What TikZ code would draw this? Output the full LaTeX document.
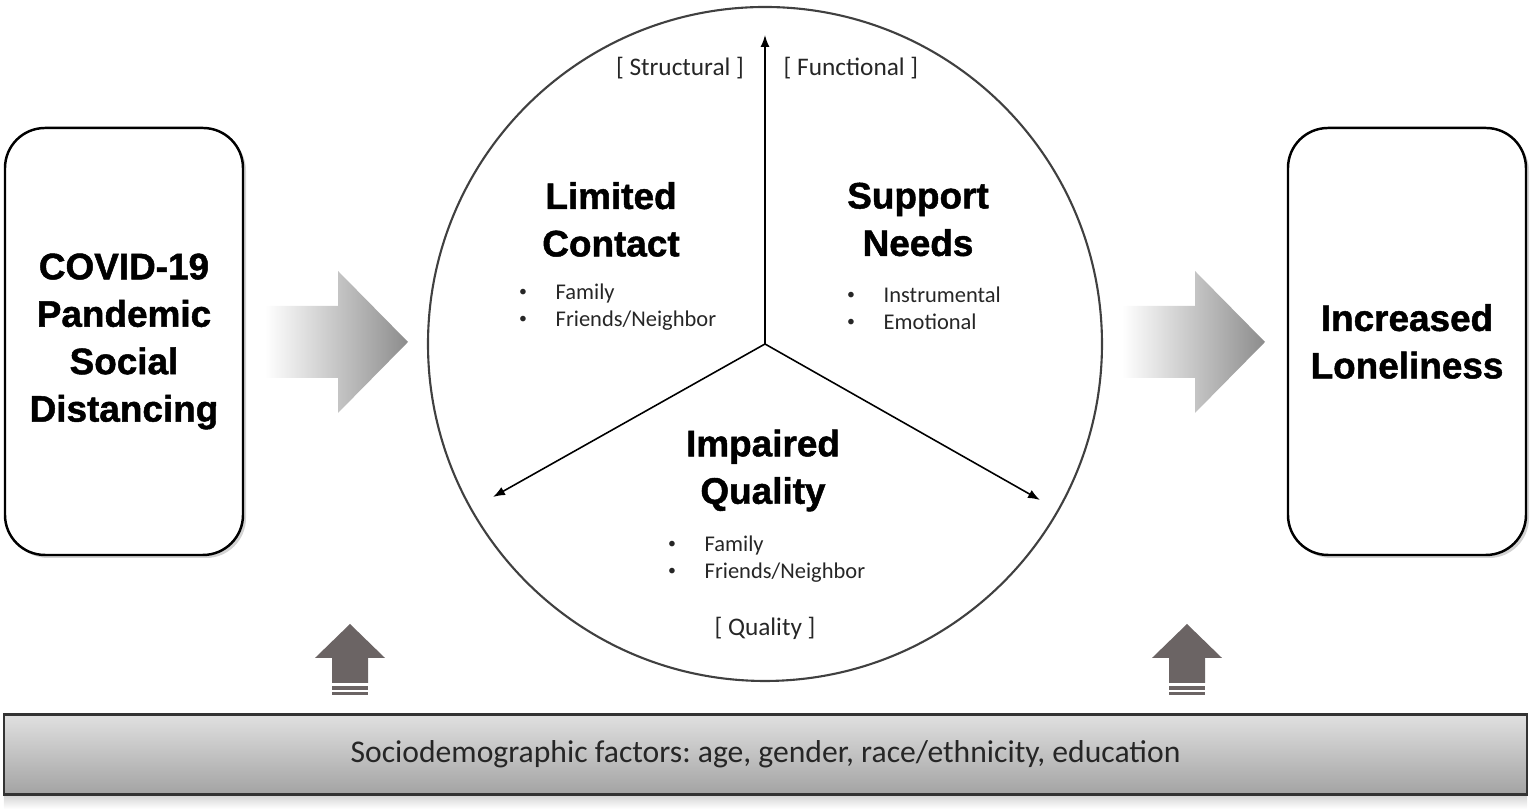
\documentclass[tikz,border=0pt]{standalone}
\usepackage{fontspec}
\setmainfont{Carlito}
\newfontfamily\headfont[BoldFeatures={FakeBold=1.3}]{Liberation Sans}
\usepackage{tikz}
\usetikzlibrary{arrows.meta, shadows}
\definecolor{arrowgray}{RGB}{107,100,100}
\newcommand{\itm}{\makebox[0.4cm][l]{\hspace{0.035cm}\raisebox{0.25ex}{\fontsize{4.5}{5}\selectfont\textbullet}}}
\frenchspacing

\begin{document}
\begin{tikzpicture}[
    sidebox/.style={draw=black, line width=0.7pt, rounded corners=0.4cm, fill=white,
        minimum width=2.38cm, minimum height=4.27cm,
        drop shadow={shadow xshift=0.03cm, shadow yshift=-0.03cm, opacity=0.35}},
    headtext/.style={align=center, inner sep=0pt, font=\headfont\bfseries\fontsize{10.5}{13.5}\selectfont},
    smalltext/.style={align=left, inner sep=0pt, font=\fontsize{6.4}{7.7}\selectfont, text=black!85},
    tagtext/.style={inner sep=0pt, font=\fontsize{7.2}{8.6}\selectfont, text=black!85},
    ring/.style={draw=black!75, line width=0.6pt},
    spoke/.style={line width=0.45pt, -{Latex[length=1.2mm, width=0.9mm]}},
    bigarrow/.style={left color=white, right color=black!45},
    uparrow/.style={fill=arrowgray},
    bar/.style={draw=black!80, line width=0.6pt, top color=black!12, bottom color=black!36,
        minimum width=15.23cm, minimum height=0.8cm, inner sep=0pt,
        font=\fontsize{9}{11}\selectfont, text=black!85},
  ]
        % Fix the page size
        \useasboundingbox (0,0) rectangle (15.4,8.09);

        % Side boxes
        \node[sidebox] (covid) at (1.24,4.675) {};
        \node[headtext] (covidtxt) at (covid) {COVID-19\\Pandemic\\Social\\Distancing};
        \node[sidebox] (lonely) at (14.07,4.675) {};
        \node[headtext] (lonelytxt) at (lonely) {Increased\\Loneliness};

        % Shaded arrows between the boxes and the circle
        \foreach \dx in {0,8.57} {
            \shade[bigarrow, xshift=\dx cm] (2.65,5.03) -- (3.38,5.03) -- (3.38,5.38) -- (4.08,4.67)
                -- (3.38,3.96) -- (3.38,4.31) -- (2.65,4.31) -- cycle;
        }

        % Circle with three spokes
        \coordinate (ctr) at (7.65,4.65);
        \coordinate (sTop) at (7.65,7.74);
        \coordinate (sLeft) at (4.93,3.12);
        \coordinate (sRight) at (10.40,3.09);
        \draw[ring] (ctr) circle (3.37cm);
        \draw[spoke] (ctr) -- (sTop);
        \draw[spoke] (ctr) -- (sLeft);
        \draw[spoke] (ctr) -- (sRight);

        % Labels inside the circle
        \node[tagtext] (structural) at (6.80,7.41) {[ Structural ]};
        \node[tagtext] (functional) at (8.51,7.41) {[ Functional ]};
        \node[headtext] (contact) at (6.11,5.895) {Limited\\Contact};
        \node[headtext] (needs) at (9.18,5.895) {Support\\Needs};
        \node[smalltext, anchor=west] (contactlist) at (5.15,5.02) {\itm Family\\\itm Friends/Neighbor};
        \node[smalltext, anchor=west] (needslist) at (8.43,5.01) {\itm Instrumental\\\itm Emotional};
        \node[headtext] (quality) at (7.63,3.385) {Impaired\\Quality};
        \node[smalltext, anchor=west] (qualitylist) at (6.64,2.50) {\itm Family\\\itm Friends/Neighbor};
        \node[tagtext] (qualitytag) at (7.65,1.81) {[ Quality ]};

        % Up arrows from the bottom bar
        \foreach \ux in {3.50,11.87} {
            \fill[uparrow] (\ux,1.85) -- ++(0.35,-0.34) -- ++(-0.17,0) -- ++(0,-0.25)
                -- ++(-0.36,0) -- ++(0,0.25) -- ++(-0.17,0) -- cycle;
            \fill[uparrow] (\ux-0.18,1.19) rectangle (\ux+0.18,1.23);
            \fill[uparrow] (\ux-0.18,1.14) rectangle (\ux+0.18,1.17);
        }

        % Bottom bar and its reflection
        \shade[top color=black!18, bottom color=white] (0.04,0.0) rectangle (15.27,0.15);
        \node[bar] (factors) at (7.655,0.545) {Sociodemographic factors: age, gender, race/ethnicity, education};

    \end{tikzpicture}
\end{document}
